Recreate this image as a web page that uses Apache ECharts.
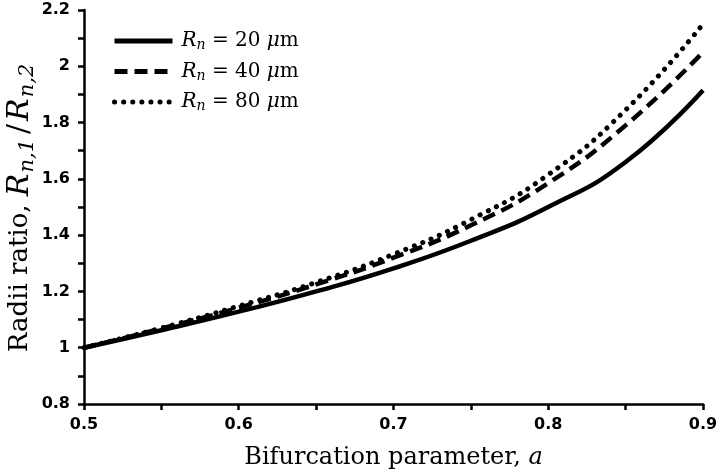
<!DOCTYPE html>
<html>
<head>
<meta charset="utf-8">
<script src="https://cdn.jsdelivr.net/npm/echarts@6/dist/echarts.min.js"></script>
<style>html,body{margin:0;padding:0;background:#fff}#c{width:720px;height:474px}</style>
</head>
<body>
<div id="c"></div>
<script>
var aValues = [0.5, 0.55, 0.6, 0.65, 0.7, 0.75, 0.8, 0.85, 0.9];
var rn20 = [1.000, 1.062, 1.128, 1.200, 1.282, 1.380, 1.500, 1.660, 1.915];
var rn40 = [1.000, 1.068, 1.142, 1.225, 1.320, 1.435, 1.585, 1.790, 2.050];
var rn80 = [1.000, 1.070, 1.148, 1.232, 1.332, 1.455, 1.615, 1.845, 2.150];
var seriesNames = ['20', '40', '80'];

function pairs(ys){ return aValues.map(function(x,i){ return [x, ys[i]]; }); }

var chart = echarts.init(document.getElementById('c'), null, {renderer:'canvas'});
var labelFont = {fontFamily:'DejaVu Sans', fontWeight:'bold', fontSize:16, color:'#000'};
var serif = 'DejaVu Serif';
var rich = {
  i:{fontFamily:serif, fontStyle:'italic', fontSize:20, color:'#000'},
  sub:{fontFamily:serif, fontStyle:'italic', fontSize:14, color:'#000', verticalAlign:'bottom', padding:[9,0,0,0]},
  t:{fontFamily:serif, fontSize:20, color:'#000'}
};
chart.setOption({
  animation:false,
  backgroundColor:'#fff',
  grid:{left:84, right:17, top:10, bottom:70, containLabel:false, outerBoundsMode:'none'},
  legend:{
    orient:'vertical', left:107, top:26, itemWidth:58, itemHeight:16, itemGap:9,
    data:seriesNames,
    itemStyle:{opacity:0},
    lineStyle:{width:5},
    formatter:function(n){ return '{i|R}{sub|n}{t| = ' + n + ' }{i|μ}{t|m}'; },
    textStyle:{rich:rich, padding:[0,0,0,4]}
  },
  xAxis:{
    type:'value', min:0.5, max:0.9, interval:0.1,
    name:'Bifurcation parameter, {i|a}', nameLocation:'middle', nameGap:42,
    nameTextStyle:{fontFamily:serif, fontSize:24, color:'#000', rich:{i:{fontFamily:serif, fontStyle:'italic', fontSize:24, color:'#000'}}},
    axisLine:{lineStyle:{color:'#000', width:2.5}},
    axisTick:{length:6, lineStyle:{width:2.5, color:'#000'}},
    minorTick:{show:true, splitNumber:2, length:6, lineStyle:{width:2.5, color:'#000'}},
    splitLine:{show:false},
    axisLabel:Object.assign({margin:13, formatter:function(v){return String(+v.toFixed(1));}}, labelFont)
  },
  yAxis:{
    type:'value', min:0.8, max:2.2, interval:0.2,
    name:'Radii ratio, {i|R}{sub|n,1}{s|/}{i|R}{sub|n,2}', nameLocation:'middle', nameGap:46,
    nameMoveOverlap:false,
    nameTextStyle:{fontFamily:serif, fontSize:26, color:'#000', rich:{
      i:{fontFamily:serif, fontStyle:'italic', fontSize:30, color:'#000', padding:[0,1,0,0]},
      sub:{fontFamily:serif, fontStyle:'italic', fontSize:21, color:'#000', verticalAlign:'bottom', padding:[14,2,0,0]},
      s:{fontFamily:serif, fontSize:30, color:'#000', padding:[0,3,0,3]},
      t:{fontFamily:serif, fontSize:26, color:'#000'}
    }},
    axisLine:{show:true, lineStyle:{color:'#000', width:2.5}},
    axisTick:{show:true, length:6, lineStyle:{width:2.5, color:'#000'}},
    minorTick:{show:true, splitNumber:2, length:6, lineStyle:{width:2.5, color:'#000'}},
    splitLine:{show:false},
    axisLabel:Object.assign({margin:14, formatter:function(v){return String(+v.toFixed(1));}}, labelFont)
  },
  series:[
    {name:'20', type:'line', smooth:true, symbol:'none', data:pairs(rn20), lineStyle:{color:'#000', width:4.5, type:'solid'}, itemStyle:{color:'#000'}},
    {name:'40', type:'line', smooth:true, symbol:'none', data:pairs(rn40), lineStyle:{color:'#000', width:4.5, type:[13,7]}, itemStyle:{color:'#000'}},
    {name:'80', type:'line', smooth:true, symbol:'none', data:pairs(rn80), lineStyle:{color:'#000', width:5, type:[0.1,9], cap:'round'}, itemStyle:{color:'#000'}}
  ]
});
</script>
</body>
</html>
